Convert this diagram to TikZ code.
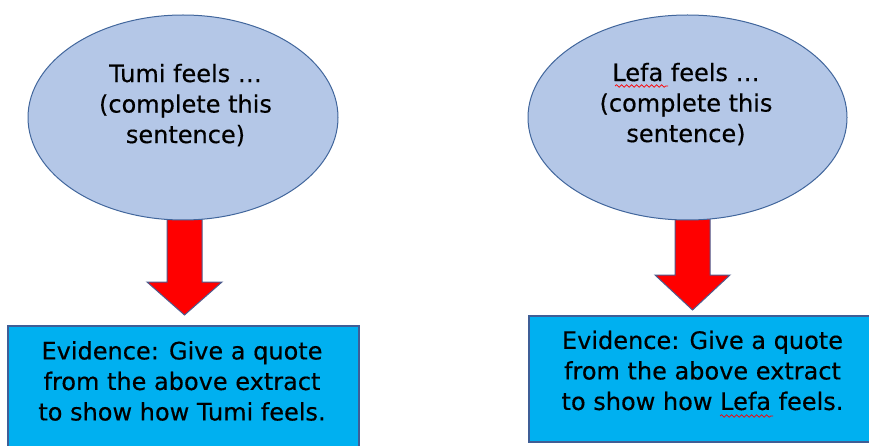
\documentclass[tikz,border=0pt]{standalone}
\usepackage{fontspec}
\setmainfont{DejaVu Sans}
\newfontfamily\vfont[FakeBold=0.4]{DejaVu Sans}
\usetikzlibrary{shapes.geometric,decorations.pathmorphing}
\definecolor{ellfill}{HTML}{B4C7E7}
\definecolor{ellline}{HTML}{41669C}
\definecolor{boxfill}{HTML}{00B0F0}
\definecolor{boxline}{HTML}{3F5E96}
\definecolor{arrline}{HTML}{4E5C8E}
\begin{document}
\begin{tikzpicture}[x=1pt,y=-1pt,
  ell/.style={ellipse,draw=ellline,fill=ellfill,line width=1pt,inner sep=0pt,minimum height=205pt},
  evbox/.style={draw=boxline,fill=boxfill,line width=1.2pt},
  blk/.style={draw=arrline,fill=red,line width=1pt,line join=miter},
  txt/.style={align=center,font=\vfont\fontsize{24}{30.5}\selectfont,inner sep=0pt,text=black},
  squig/.style={draw=red,line width=0.7pt,decorate,decoration={snake,segment length=5pt,amplitude=1.3pt}}]
\useasboundingbox[fill=white] (0,0) rectangle (869,446);
% arrows (drawn first so the ellipses cover their tops)
\coordinate (a1s) at (184.5,210);
\coordinate (a1t) at (184.5,315);
\coordinate (a2s) at (692.5,210);
\coordinate (a2t) at (692.5,310);
\draw[blk] (a1s) ++(-17.5,0) -- ++(35,0) -- ++(0,72) -- ++(20,0) -- (a1t) -- ++(-37.5,-33) -- ++(20,0) -- cycle;
\draw[blk] (a2s) ++(-17.5,0) -- ++(35,0) -- ++(0,65) -- ++(20,0) -- (a2t) -- ++(-37.5,-35) -- ++(20,0) -- cycle;
% ellipses
\node[ell,minimum width=310pt] (e1) at (183,117.5) {};
\node[ell,minimum width=319pt] (e2) at (687.5,117.5) {};
\node[txt] (t1) at (185.5,105) {Tumi feels …\\(complete this\\sentence)};
\node[txt] (t2) at (686,104) {Lefa feels …\\(complete this\\sentence)};
% evidence boxes
\draw[evbox] (8,450) -- (8,326) -- (359,326) -- (359,450);
\draw[evbox] (875,316) -- (529,316) -- (529,442) -- (875,442);
\node[txt] (b1) at (182,381) {Evidence: Give a quote\\from the above extract\\to show how Tumi feels.};
\node[txt] (b2) at (702.5,370.5) {Evidence: Give a quote\\from the above extract\\to show how Lefa feels.};
% spell-check underlines
\coordinate (u1a) at (615,86);
\coordinate (u1b) at (668,86);
\coordinate (u2a) at (720,416);
\coordinate (u2b) at (773,416);
\draw[squig] (u1a) -- (u1b);
\draw[squig] (u2a) -- (u2b);
\end{tikzpicture}
\end{document}
